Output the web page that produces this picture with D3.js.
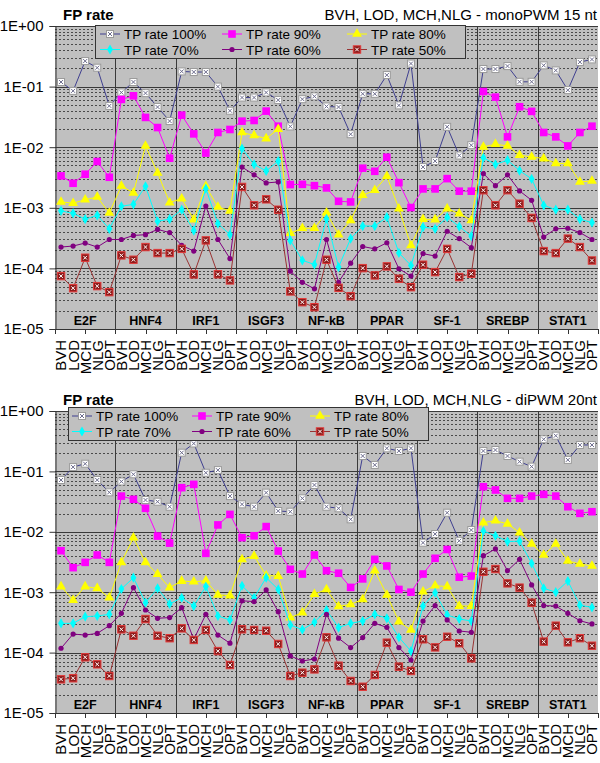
<!DOCTYPE html>
<html><head><meta charset="utf-8">
<script src="https://cdn.jsdelivr.net/npm/d3@7"></script>
<style>body{margin:0;background:#fff;} svg{display:block;font-family:"Liberation Sans",Arial,sans-serif;}</style>
</head><body><svg id="c" width="600" height="763"></svg>
<script>
// ---------- data ----------
const groups = ["E2F","HNF4","IRF1","ISGF3","NF-kB","PPAR","SF-1","SREBP","STAT1"];
const methods = ["BVH","LOD","MCH","NLG","OPT"];
const yTickValues = [1,0.1,0.01,0.001,0.0001,0.00001];
const yTickLabels = ["1E+00","1E-01","1E-02","1E-03","1E-04","1E-05"];
const seriesNames = ["TP rate 100%","TP rate 90%","TP rate 80%","TP rate 70%","TP rate 60%","TP rate 50%"];
const titles1 = ["FP rate","BVH, LOD, MCH,NLG - monoPWM 15 nt"];
const titles2 = ["FP rate","BVH, LOD, MCH,NLG - diPWM 20nt"];

// monoPWM 15 nt
const mono_tp100 = [0.119,0.085,0.264,0.205,0.048, 0.080,0.119,0.078,0.046,0.027, 0.178,0.174,0.174,0.100,0.040, 0.066,0.066,0.080,0.060,0.022, 0.062,0.069,0.047,0.046,0.0164, 0.076,0.076,0.155,0.049,0.24, 0.0047,0.0059,0.0217,0.0073,0.0108, 0.195,0.195,0.218,0.12,0.12, 0.224,0.185,0.0875,0.254,0.281];
const mono_tp90 = [0.00336,0.00254,0.00358,0.0058,0.00319, 0.0614,0.0705,0.031,0.0211,0.00658, 0.0338,0.0166,0.0080,0.0175,0.0196, 0.0269,0.0276,0.0394,0.0222,0.00242, 0.00244,0.00232,0.00213,0.00128,0.00125, 0.0045,0.0040,0.00684,0.0026,0.00101, 0.00205,0.00205,0.00303,0.00188,0.00188, 0.083,0.067,0.0148,0.0465,0.039, 0.0175,0.0148,0.0105,0.0175,0.0222];
const mono_tp80 = [0.00125,0.00119,0.00136,0.00151,0.00082, 0.00229,0.00176,0.0105,0.00376,0.00122, 0.00142,0.00064,0.00227,0.00103,0.00089, 0.0175,0.0156,0.0139,0.0199,0.00038, 0.00046,0.00046,0.00083,0.00036,0.00062, 0.00161,0.00195,0.00332,0.00097,0.00024, 0.00065,0.00064,0.00097,0.0008,0.00062, 0.0101,0.0112,0.0105,0.0074,0.0069, 0.0065,0.0054,0.0054,0.00267,0.00278];
const mono_tp70 = [0.00089,0.00081,0.00065,0.00075,0.00045, 0.00106,0.00114,0.00227,0.0006,0.00065, 0.00093,0.00042,0.00207,0.00055,0.00036, 0.0095,0.0052,0.00406,0.0059,0.00029, 0.000136,0.000116,0.00066,0.000105,0.00031, 0.0005,0.0005,0.0007,0.00018,0.000112, 0.00048,0.00045,0.0007,0.00049,0.00034, 0.0067,0.0052,0.0061,0.0041,0.0030, 0.0011,0.00093,0.00093,0.00065,0.00057];
const mono_tp60 = [0.000225,0.000234,0.000262,0.000225,0.0003, 0.0003,0.00035,0.00036,0.00044,0.00039, 0.00024,0.000193,0.00107,0.0003,0.000145, 0.0047,0.0035,0.00257,0.00267,0.00009, 0.000059,0.000046,0.0003,0.000059,0.000122, 0.00023,0.00021,0.000265,0.0000986,0.0000747, 0.000175,0.00016,0.00041,0.00031,0.00022, 0.00367,0.00232,0.0035,0.0019,0.00133, 0.00033,0.00045,0.00046,0.00039,0.0003];
const mono_tp50 = [0.0000747,0.0000472,0.00015,0.000051,0.0000406, 0.000164,0.000139,0.000225,0.000179,0.000179, 0.00021,0.0000796,0.00029,0.00008,0.0000634, 0.00221,0.0011,0.00138,0.00093,0.0000417, 0.0000277,0.0000229,0.000139,0.0000478,0.0000348, 0.000101,0.0000766,0.000108,0.0000675,0.000049, 0.000115,0.0000869,0.00021,0.000072,0.0000817, 0.00195,0.0011,0.00195,0.00117,0.00068, 0.000193,0.000179,0.00031,0.000225,0.000135];

// diPWM 20nt
const di_tp100 = [0.072,0.118,0.134,0.072,0.045, 0.068,0.0895,0.0336,0.0315,0.026, 0.204,0.29,0.095,0.105,0.039, 0.0285,0.026,0.0445,0.0221,0.0215, 0.0358,0.0596,0.026,0.0245,0.0161, 0.18,0.128,0.241,0.218,0.241, 0.0066,0.0092,0.0207,0.0071,0.0107, 0.218,0.226,0.18,0.145,0.12, 0.34,0.39,0.155,0.274,0.274];
const di_tp90 = [0.00487,0.00255,0.00312,0.00413,0.00312, 0.039,0.0345,0.0245,0.0085,0.0065, 0.0538,0.061,0.0044,0.013,0.0194, 0.008,0.0086,0.0122,0.0048,0.00239, 0.002,0.00413,0.00227,0.00206,0.0012, 0.00166,0.0035,0.00272,0.00111,0.001, 0.002,0.00364,0.0051,0.00177,0.00185, 0.0558,0.0492,0.0358,0.0358,0.039, 0.0417,0.039,0.026,0.0202,0.0215];
const di_tp80 = [0.00124,0.00074,0.00124,0.00116,0.00081, 0.00312,0.008,0.00312,0.00198,0.00119, 0.00153,0.00149,0.00155,0.0009,0.00088, 0.0035,0.00397,0.00188,0.00185,0.00038, 0.000458,0.00093,0.00111,0.00058,0.00063, 0.00076,0.00227,0.0009,0.000325,0.000237, 0.00102,0.00128,0.00124,0.00059,0.00059, 0.0142,0.0153,0.0135,0.0097,0.0063, 0.00413,0.0063,0.00329,0.00293,0.00272];
const di_tp70 = [0.000305,0.000305,0.000393,0.000404,0.00043, 0.00113,0.00174,0.00067,0.00116,0.00064, 0.00081,0.00059,0.00124,0.000404,0.000347, 0.00128,0.00081,0.00174,0.00111,0.000286, 0.00024,0.000318,0.000507,0.00026,0.000305, 0.000333,0.00043,0.00037,0.000179,0.000106, 0.00059,0.00098,0.00042,0.00036,0.000333, 0.0103,0.0086,0.0069,0.0070,0.003, 0.00116,0.001,0.00153,0.00061,0.00056];
const di_tp60 = [0.000118,0.000203,0.000195,0.000208,0.000279, 0.000447,0.00119,0.000507,0.00037,0.00038, 0.000555,0.000165,0.00043,0.000195,0.000143, 0.00072,0.0007,0.00109,0.000476,0.000088, 0.0000726,0.0000784,0.00043,0.000173,0.000121, 0.000177,0.000305,0.000262,0.000121,0.0000754, 0.000333,0.0006,0.000347,0.000228,0.000217, 0.00402,0.0052,0.00227,0.0035,0.00132, 0.0006,0.00059,0.000447,0.000337,0.000298];
const di_tp50 = [0.0000361,0.0000376,0.0000836,0.000064,0.000041, 0.000243,0.00019,0.00036,0.00019,0.000173, 0.000252,0.000162,0.000237,0.000106,0.0000623, 0.000243,0.000237,0.00023,0.000139,0.000041, 0.0000465,0.0000527,0.000179,0.0000607,0.0000339, 0.0000272,0.0000426,0.000146,0.0000585,0.0000496, 0.000166,0.000122,0.000183,0.000143,0.0000804, 0.00218,0.00242,0.0014,0.00119,0.00067, 0.000152,0.000279,0.000148,0.000173,0.00013];

// ---------- styles ----------
const styles = [
  {line:"#3f3f90", marker:"xbox"},
  {line:"#ff00ff", marker:"square", fill:"#ff00ff"},
  {line:"#ffff00", marker:"triangle", fill:"#ffff00"},
  {line:"#00ffff", marker:"diamond", fill:"#00ffff"},
  {line:"#800080", marker:"circle", fill:"#800080"},
  {line:"#993333", marker:"redx"}
];

const svg = d3.select("#c");
const X0 = 55, X1 = 598;
const cats = groups.flatMap(g => methods.map(m => ({g, m})));

function drawMarker(sel, st, cx, cy){
  const g = sel.append("g").attr("transform", `translate(${cx},${cy})`);
  if (st.marker === "xbox"){
    g.append("rect").attr("x",-3.5).attr("y",-3.5).attr("width",7).attr("height",7)
      .attr("fill","#ffffff").attr("stroke","#9a9a9a").attr("stroke-width",1);
    g.append("path").attr("d","M-2,-2L2,2M-2,2L2,-2").attr("stroke","#6d6d8d").attr("stroke-width",1);
  } else if (st.marker === "square"){
    g.append("rect").attr("x",-3.8).attr("y",-3.8).attr("width",7.6).attr("height",7.6)
      .attr("fill",st.fill);
  } else if (st.marker === "triangle"){
    g.append("path").attr("d", d3.symbol(d3.symbolTriangle, 42)()).attr("fill",st.fill);
  } else if (st.marker === "diamond"){
    g.append("path").attr("d", d3.symbol(d3.symbolDiamond, 30)()).attr("fill",st.fill);
  } else if (st.marker === "circle"){
    g.append("circle").attr("r",2.6).attr("fill",st.fill);
  } else if (st.marker === "redx"){
    g.append("rect").attr("x",-3.7).attr("y",-3.7).attr("width",7.4).attr("height",7.4)
      .attr("fill","#8e1b1b").attr("stroke","#e23a3a").attr("stroke-width",1);
    g.append("path").attr("d","M-1.8,-1.8L1.8,1.8M-1.8,1.8L1.8,-1.8").attr("stroke","#ffffff").attr("stroke-width",1);
  }
}

function drawPanel(cfg){
  const top = cfg.top, bottom = cfg.bottom;
  const root = svg.append("g");
  const x = d3.scalePoint().domain(d3.range(cats.length)).range([X0, X1]).padding(0.5);
  const xg = d3.scaleBand().domain(groups).range([X0, X1]);
  const y = d3.scaleLog().domain([1e-5, 1]).range([bottom, top]);

  root.append("rect").attr("x",X0).attr("y",top).attr("width",X1-X0).attr("height",bottom-top).attr("fill","#c0c0c0");

  // minor grid
  const minors = [];
  for (let e = -5; e < 0; e++) for (let k = 2; k <= 9; k++) minors.push(k * Math.pow(10, e));
  root.append("g").selectAll("line").data(minors).join("line")
    .attr("x1",X0).attr("x2",X1)
    .attr("y1",d => Math.round(y(d))+0.5).attr("y2",d => Math.round(y(d))+0.5)
    .attr("stroke","#4a4a4a").attr("stroke-width",1).attr("stroke-dasharray","2,2");
  // major grid
  root.append("g").selectAll("line").data(yTickValues).join("line")
    .attr("x1",X0).attr("x2",X1)
    .attr("y1",d => Math.round(y(d))+0.5).attr("y2",d => Math.round(y(d))+0.5)
    .attr("stroke","#3a3a3a").attr("stroke-width",1);
  // vertical group separators
  root.append("g").selectAll("line").data(groups.slice(1)).join("line")
    .attr("x1",d => Math.round(xg(d))+0.5).attr("x2",d => Math.round(xg(d))+0.5)
    .attr("y1",top).attr("y2",bottom)
    .attr("stroke","#3a3a3a").attr("stroke-width",1);

  // group labels inside plot
  root.append("g").selectAll("text").data(groups).join("text")
    .attr("x",d => xg(d) + xg.bandwidth()/2).attr("y",bottom-4)
    .attr("text-anchor","middle").attr("font-size",12.5).attr("font-weight","bold").attr("fill","#000")
    .text(d => d);

  // y axis
  const yAxis = d3.axisLeft(y).tickValues(yTickValues).tickFormat((d,i) => yTickLabels[i]).tickSize(6).tickPadding(6);
  const ya = root.append("g").attr("transform",`translate(${X0+0.5},0)`).call(yAxis);
  ya.select(".domain").attr("stroke","#333");
  ya.selectAll(".tick line").attr("stroke","#333");
  ya.selectAll("text").attr("font-size",15).attr("fill","#000").attr("font-family","Liberation Sans, Arial, sans-serif");

  // x axis (bottom)
  const tickPos = [];
  groups.forEach(gname => { tickPos.push(xg(gname)); tickPos.push(xg(gname) + xg.bandwidth()/2); });
  tickPos.push(X1);
  root.append("line").attr("x1",X0).attr("x2",X1).attr("y1",bottom+0.5).attr("y2",bottom+0.5).attr("stroke","#333");
  root.append("g").selectAll("line").data(tickPos).join("line")
    .attr("x1",d => Math.round(d)+0.5).attr("x2",d => Math.round(d)+0.5)
    .attr("y1",bottom).attr("y2",bottom+5).attr("stroke","#333");
  root.append("g").selectAll("text").data(cats).join("text")
    .attr("transform",(d,i) => `translate(${x(i)},${bottom+11}) rotate(-90)`)
    .attr("dy","0.36em").attr("text-anchor","end").attr("font-size",15).attr("fill","#000")
    .text(d => d.m);

  // series
  const line = d3.line().x((d,i) => x(i)).y(d => y(d));
  cfg.series.forEach((vals, si) => {
    const st = styles[si];
    root.append("path").attr("d", line(vals)).attr("fill","none").attr("stroke",st.line).attr("stroke-width",1);
    const mg = root.append("g");
    vals.forEach((v,i) => drawMarker(mg, st, x(i), y(v)));
  });

  // titles
  root.append("text").attr("x",63).attr("y",top-6).attr("font-size",15).attr("font-weight","bold").text(cfg.titles[0]);
  root.append("text").attr("x",597).attr("y",top-6).attr("text-anchor","end").attr("font-size",15).text(cfg.titles[1]);

  // legend
  const L = cfg.legend;
  const lg = root.append("g");
  lg.append("rect").attr("x",L.x+0.5).attr("y",L.y+0.5).attr("width",L.w).attr("height",L.h)
    .attr("fill","#c0c0c0").attr("stroke","#333").attr("stroke-width",1);
  seriesNames.forEach((name, si) => {
    const col = si % 3, row = Math.floor(si / 3);
    const lx = L.x + L.colX[col], ly = L.y + L.rowY[row];
    const st = styles[si];
    lg.append("line").attr("x1",lx).attr("x2",lx+20).attr("y1",ly-5).attr("y2",ly-5).attr("stroke",st.line).attr("stroke-width",1);
    drawMarker(lg, st, lx+10, ly-5);
    lg.append("text").attr("x",lx+24).attr("y",ly).attr("font-size",13.5).attr("fill","#000").text(name);
  });
}

drawPanel({
  top: 26, bottom: 329,
  series: [mono_tp100, mono_tp90, mono_tp80, mono_tp70, mono_tp60, mono_tp50],
  titles: titles1,
  legend: {x: 95, y: 25, w: 370, h: 33, colX: [5, 127, 252], rowY: [14, 29.5]}
});
drawPanel({
  top: 411, bottom: 713,
  series: [di_tp100, di_tp90, di_tp80, di_tp70, di_tp60, di_tp50],
  titles: titles2,
  legend: {x: 68, y: 407, w: 360, h: 33, colX: [4, 124, 242], rowY: [14, 29.5]}
});
</script></body></html>
